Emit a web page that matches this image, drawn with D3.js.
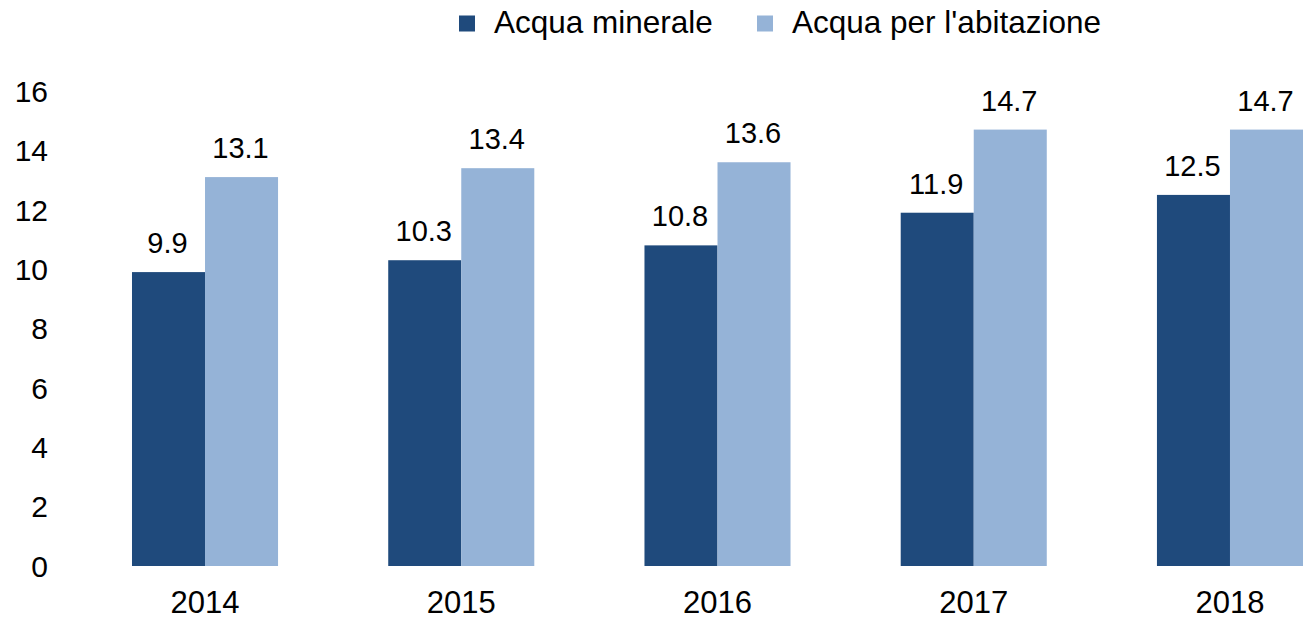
<!DOCTYPE html>
<html>
<head>
<meta charset="utf-8">
<script src="https://cdn.jsdelivr.net/npm/d3@7"></script>
<style>
body { margin:0; background:#fff; }
svg text { font-family: "Liberation Sans", Arial, sans-serif; fill:#000; }
</style>
</head>
<body>
<div id="chart"></div>
<script>
var years = ["2014", "2015", "2016", "2017", "2018"];
var seriesNames = ["Acqua minerale", "Acqua per l'abitazione"];
var minerale = [9.9, 10.3, 10.8, 11.9, 12.5];
var abitazione = [13.1, 13.4, 13.6, 14.7, 14.7];
var yTicks = [0, 2, 4, 6, 8, 10, 12, 14, 16];
var colors = ["#1f4a7c", "#95b3d7"];

var width = 1306, height = 620;

var svg = d3.select("#chart")
  .append("svg")
  .attr("width", width)
  .attr("height", height);

var x = d3.scaleBand()
  .domain(years)
  .range([76.9, 1358.1])
  .paddingInner(0.43)
  .paddingOuter(0.215);

var x1 = d3.scaleBand()
  .domain([0, 1])
  .range([0, x.bandwidth()]);

var y = d3.scaleLinear()
  .domain([0, 16])
  .range([566, 91]);

// y tick labels
svg.selectAll(".ytick")
  .data(yTicks)
  .enter().append("text")
  .attr("class", "ytick")
  .attr("x", 48)
  .attr("y", function(d){ return y(d); })
  .attr("dy", "0.36em")
  .attr("text-anchor", "end")
  .style("font-size", "30px")
  .text(function(d){ return d; });

var rows = years.map(function(yr, i){
  return { year: yr, vals: [minerale[i], abitazione[i]] };
});

var groups = svg.selectAll(".grp")
  .data(rows)
  .enter().append("g")
  .attr("class", "grp")
  .attr("transform", function(d){ return "translate(" + x(d.year) + ",0)"; });

groups.selectAll("rect")
  .data(function(d){ return d.vals; })
  .enter().append("rect")
  .attr("x", function(d, i){ return x1(i); })
  .attr("width", x1.bandwidth())
  .attr("y", function(d){ return y(d); })
  .attr("height", function(d){ return y(0) - y(d); })
  .attr("fill", function(d, i){ return colors[i]; });

groups.selectAll(".lbl")
  .data(function(d){ return d.vals; })
  .enter().append("text")
  .attr("class", "lbl")
  .attr("x", function(d, i){ return x1(i) + x1.bandwidth() / 2 - 1; })
  .attr("y", function(d){ return y(d) - 19; })
  .attr("text-anchor", "middle")
  .style("font-size", "29px")
  .text(function(d){ return d.toFixed(1); });

// x labels
svg.selectAll(".xlbl")
  .data(years)
  .enter().append("text")
  .attr("class", "xlbl")
  .attr("x", function(d){ return x(d) + x.bandwidth() / 2; })
  .attr("y", 613)
  .attr("text-anchor", "middle")
  .style("font-size", "31px")
  .text(function(d){ return d; });

// legend
var legendX = [459, 757];
var legend = svg.selectAll(".legend")
  .data(seriesNames)
  .enter().append("g")
  .attr("class", "legend")
  .attr("transform", function(d, i){ return "translate(" + legendX[i] + ",0)"; });

legend.append("rect")
  .attr("y", 15.5)
  .attr("width", 16)
  .attr("height", 16)
  .attr("fill", function(d, i){ return colors[i]; });

legend.append("text")
  .attr("x", 35)
  .attr("y", 33)
  .style("font-size", "31.5px")
  .text(function(d){ return d; });
</script>
</body>
</html>
